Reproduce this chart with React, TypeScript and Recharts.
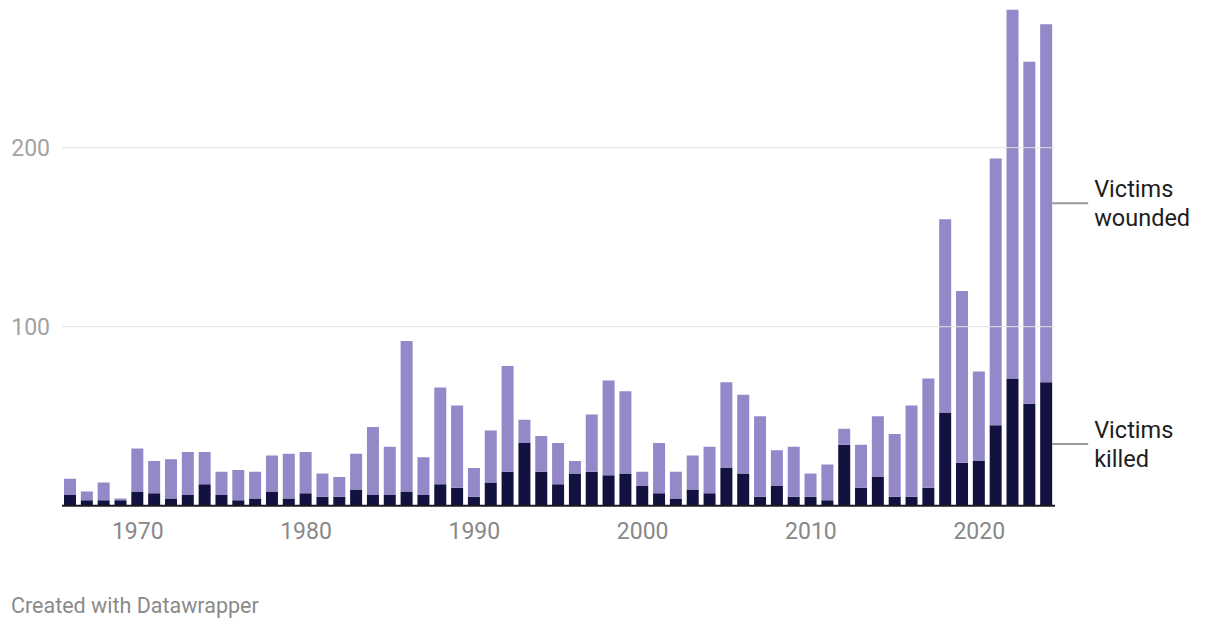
import React from 'react';
import { BarChart, Bar, XAxis, YAxis, ReferenceLine, LabelList } from 'recharts';

const years = [
  1966, 1967, 1968, 1969, 1970, 1971, 1972, 1973, 1974, 1975,
  1976, 1977, 1978, 1979, 1980, 1981, 1982, 1983, 1984, 1985,
  1986, 1987, 1988, 1989, 1990, 1991, 1992, 1993, 1994, 1995,
  1996, 1997, 1998, 1999, 2000, 2001, 2002, 2003, 2004, 2005,
  2006, 2007, 2008, 2009, 2010, 2011, 2012, 2013, 2014, 2015,
  2016, 2017, 2018, 2019, 2020, 2021, 2022, 2023, 2024,
];

const victimsKilled = [
  6, 3, 3, 3, 8, 7, 4, 6, 12, 6,
  3, 4, 8, 4, 7, 5, 5, 9, 6, 6,
  8, 6, 12, 10, 5, 13, 19, 35, 19, 12,
  18, 19, 17, 18, 11, 7, 4, 9, 7, 21,
  18, 5, 11, 5, 5, 3, 34, 10, 16, 5,
  5, 10, 52, 24, 25, 45, 71, 57, 69,
];

const victimsWounded = [
  9, 5, 10, 1, 24, 18, 22, 24, 18, 13,
  17, 15, 20, 25, 23, 13, 11, 20, 38, 27,
  84, 21, 54, 46, 16, 29, 59, 13, 20, 23,
  7, 32, 53, 46, 8, 28, 15, 19, 26, 48,
  44, 45, 20, 28, 13, 20, 9, 24, 34, 35,
  51, 61, 108, 96, 50, 149, 206, 191, 200,
];

const xTickYears = [1970, 1980, 1990, 2000, 2010, 2020];
const yTicks = [100, 200];

const data = years.map((year, i) => ({
  year,
  killed: victimsKilled[i],
  wounded: victimsWounded[i],
}));

const FONT = 'Roboto, sans-serif';
const lastIndex = years.length - 1;

const makeEndLabel = (line1: string, line2: string) => (props: any) => {
  const { x, y, width, height, index } = props;
  if (index !== lastIndex) return null;
  const bx = Number(x) + Number(width);
  const cy = Number(y) + Number(height) / 2;
  return (
    <g>
      <line x1={bx} x2={bx + 36} y1={cy} y2={cy} stroke="#999" strokeWidth={2} />
      <text x={bx + 42} y={cy - 6} fontFamily={FONT} fontSize={23.5} fill="#1d1d1d">
        {line1}
      </text>
      <text x={bx + 42} y={cy + 23} fontFamily={FONT} fontSize={23.5} fill="#1d1d1d">
        {line2}
      </text>
    </g>
  );
};

export default function App() {
  return (
    <div style={{ position: 'absolute', left: 0, top: 0, width: 1220, height: 628, background: '#fff' }}>
      <BarChart
        width={1220}
        height={628}
        data={data}
        margin={{ top: 0, right: 165, bottom: 92.3, left: 0 }}
        barSize={12}
      >
        {yTicks.map((t) => (
          <ReferenceLine key={t} y={t} stroke="#e3e3e3" strokeWidth={1} />
        ))}
        <XAxis
          dataKey="year"
          height={30}
          interval={0}
          tickLine={false}
          tickSize={0}
          tickMargin={17}
          axisLine={{ stroke: '#1a1a1a', strokeWidth: 2 }}
          tickFormatter={(v: any) => (xTickYears.includes(Number(v)) ? String(v) : '')}
          tick={{ fontFamily: FONT, fontSize: 23, fill: '#888' }}
        />
        <YAxis
          width={62}
          domain={[0, 282.5]}
          ticks={yTicks}
          allowDataOverflow
          axisLine={false}
          tickLine={false}
          tickSize={0}
          tickMargin={12}
          tick={{ fontFamily: FONT, fontSize: 23, fill: '#a3a3a3' }}
        />
        <Bar dataKey="killed" stackId="a" fill="#121241" isAnimationActive={false}>
          <LabelList dataKey="killed" content={makeEndLabel('Victims', 'killed')} />
        </Bar>
        <Bar dataKey="wounded" stackId="a" fill="#9389c8" isAnimationActive={false}>
          <LabelList dataKey="wounded" content={makeEndLabel('Victims', 'wounded')} />
        </Bar>
      </BarChart>
      <div
        style={{
          position: 'absolute',
          left: 11,
          top: 594.5,
          fontFamily: FONT,
          fontSize: 21.5,
          lineHeight: 1,
          color: '#8a8a8a',
          whiteSpace: 'nowrap',
        }}
      >
        Created with Datawrapper
      </div>
    </div>
  );
}
